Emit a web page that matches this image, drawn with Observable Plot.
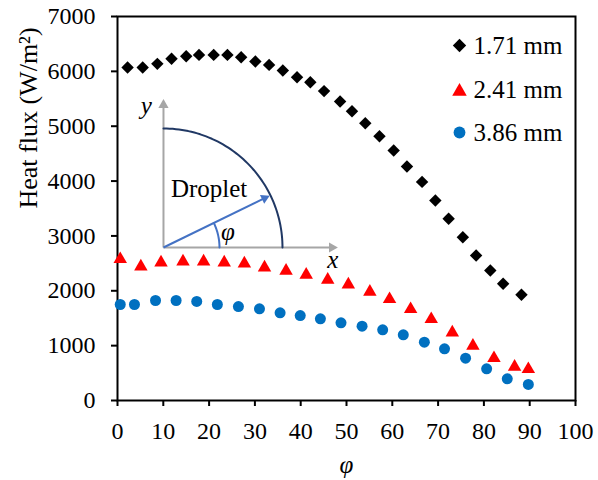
<!DOCTYPE html>
<html>
<head>
<meta charset="utf-8">
<script src="https://cdn.jsdelivr.net/npm/d3@7"></script>
<script src="https://cdn.jsdelivr.net/npm/@observablehq/plot@0.6"></script>
<style>
  body { margin: 0; background: #fff; }
  #chart svg [aria-label="x-axis tick"], #chart svg [aria-label="y-axis tick"] { stroke-width: 2px; }
  #chart svg g[aria-label="x-axis"] .tick line, #chart svg g[aria-label="y-axis"] .tick line { stroke-width: 2px; }
</style>
</head>
<body>
<div id="chart"></div>
<script>
// ---- Data ----
const seriesNames = ["1.71 mm", "2.41 mm", "3.86 mm"];

const phi171 = [2.2, 5.5, 8.7, 11.8, 15.0, 17.8, 21.0, 24.0, 27.0, 30.1, 33.1, 36.1, 39.2, 42.1, 45.1, 48.6, 51.2, 54.1, 57.2, 60.3, 63.2, 66.5, 69.4, 72.3, 75.4, 78.3, 81.4, 84.2, 88.2];
const flux171 = [6070, 6070, 6137, 6229, 6277, 6300, 6300, 6300, 6258, 6180, 6118, 6015, 5893, 5802, 5640, 5450, 5273, 5055, 4818, 4557, 4265, 3985, 3646, 3312, 2977, 2643, 2370, 2127, 1927];

const phi241 = [0.6, 5.1, 9.5, 14.3, 18.8, 23.3, 27.7, 32.1, 36.8, 41.2, 45.9, 50.4, 55.1, 59.4, 64.0, 68.5, 73.1, 77.6, 82.2, 86.7, 89.7];
const flux241 = [2612, 2479, 2552, 2570, 2570, 2552, 2534, 2461, 2401, 2328, 2237, 2150, 2018, 1883, 1701, 1518, 1276, 1034, 808, 651, 607];

const phi386 = [0.6, 3.7, 8.3, 12.8, 17.3, 21.8, 26.4, 31.0, 35.5, 39.9, 44.3, 48.8, 53.4, 57.9, 62.4, 67.0, 71.4, 76.0, 80.6, 85.1, 89.7];
const flux386 = [1750, 1750, 1823, 1823, 1805, 1750, 1713, 1672, 1599, 1549, 1489, 1416, 1354, 1289, 1198, 1063, 942, 771, 578, 396, 292];

const xTicks = [0, 10, 20, 30, 40, 50, 60, 70, 80, 90, 100];
const yTicks = [0, 1000, 2000, 3000, 4000, 5000, 6000, 7000];

const xLabel = "φ";
const yLabel = "Heat flux (W/m²)";
const insetText = "Droplet";

// ---- Build tables ----
const toRows = (xs, ys) => xs.map((x, i) => ({x, y: ys[i]}));
const rows171 = toRows(phi171, flux171);
const rows241 = toRows(phi241, flux241);
const rows386 = toRows(phi386, flux386);

// ---- Layout ----
const W = 598, H = 480;
const mL = 117, mR = 23, mT = 16, mB = 80;
const xDom = [0, 100], yDom = [0, 7000];
const kx = (W - mL - mR) / (xDom[1] - xDom[0]);   // px per degree
const ky = (H - mT - mB) / (yDom[1] - yDom[0]);   // px per W/m2

// inset schematic (data units of the chart)
const O = {x: 10.04, y: 2789};
const R = 119;            // arc radius in px
const r2 = 56;            // angle arc radius in px
const ang = 26;           // arrow angle in degrees
const toRad = d => d * Math.PI / 180;
const arcPts = d3.range(0, 90.01, 1.5).map(t => ({x: O.x + R / kx * Math.cos(toRad(t)), y: O.y + R / ky * Math.sin(toRad(t))}));
const angPts = d3.range(0, ang + 0.01, 1).map(t => ({x: O.x + r2 / kx * Math.cos(toRad(t)), y: O.y + r2 / ky * Math.sin(toRad(t))}));
const gray = "#a6a6a6", navy = "#203864", lblue = "#4472c4";
const yTip = {x: O.x, y: O.y + 148 / ky};
const xTip = {x: O.x + 174 / kx, y: O.y};
const bTip = {x: O.x + (R - 1) * Math.cos(toRad(ang)) / kx, y: O.y + (R - 1) * Math.sin(toRad(ang)) / ky};
const headBack = 5.5;
const yHead = {x: yTip.x, y: yTip.y - headBack / ky};
const xHead = {x: xTip.x - headBack / kx, y: xTip.y};
const bHead = {x: bTip.x - headBack * Math.cos(toRad(ang)) / kx, y: bTip.y - headBack * Math.sin(toRad(ang)) / ky};

const font = "'Liberation Serif', 'Times New Roman', serif";
const fsTick = 24, fsLegend = 25, fsTitle = 26;

const colors = ["#000000", "#ff0000", "#0070c0"];
const symbols = ["diamond2", "triangle", "circle"];
const radii = [5.6, 5.0, 5.5];
const dys = [0, 2, 0];

const legendDx = 342, legendTextDx = 356, legendDy = [29, 73, 116];

const marks = [
  Plot.frame({stroke: "#000", strokeWidth: 2}),
  // inset schematic
  Plot.link([{x1: O.x, y1: O.y, x2: yHead.x, y2: yHead.y}, {x1: O.x, y1: O.y, x2: xHead.x, y2: xHead.y}],
    {x1: "x1", y1: "y1", x2: "x2", y2: "y2", stroke: gray, strokeWidth: 2}),
  Plot.dot([yHead], {x: "x", y: "y", symbol: "triangle", r: 3.8, fill: gray, rotate: 0}),
  Plot.dot([xHead], {x: "x", y: "y", symbol: "triangle", r: 3.8, fill: gray, rotate: 90}),
  Plot.line(arcPts, {x: "x", y: "y", stroke: navy, strokeWidth: 2}),
  Plot.link([{x1: O.x, y1: O.y, x2: bHead.x, y2: bHead.y}], {x1: "x1", y1: "y1", x2: "x2", y2: "y2", stroke: lblue, strokeWidth: 2}),
  Plot.dot([bHead], {x: "x", y: "y", symbol: "triangle", r: 3.6, fill: lblue, rotate: 90 - ang}),
  Plot.line(angPts, {x: "x", y: "y", stroke: lblue, strokeWidth: 2}),
  Plot.text([insetText], {x: () => 20.0, y: () => 3859, text: d => d, fontSize: 25, fontFamily: font, fill: "#000"}),
  Plot.text(["φ"], {x: () => 24.1, y: () => 3068, text: d => d, fontSize: 25, fontStyle: "italic", fontFamily: font, fill: "#000"}),
  Plot.text(["y"], {x: () => 6.3, y: () => 5377, text: d => d, fontSize: 25, fontStyle: "italic", fontFamily: font, fill: "#000"}),
  Plot.text(["x"], {x: () => 47.0, y: () => 2570, text: d => d, fontSize: 25, fontStyle: "italic", fontFamily: font, fill: "#000"}),
  // data
  Plot.dot(rows171, {x: "x", y: "y", symbol: symbols[0], r: radii[0], fill: colors[0], dy: dys[0]}),
  Plot.dot(rows241, {x: "x", y: "y", symbol: symbols[1], r: radii[1], fill: colors[1], dy: dys[1]}),
  Plot.dot(rows386, {x: "x", y: "y", symbol: symbols[2], r: radii[2], fill: colors[2], dy: dys[2]}),
  // axis titles
  Plot.text([xLabel], {frameAnchor: "bottom", dy: 64, lineAnchor: "middle", text: d => d, fontSize: 25, fontStyle: "italic", fontFamily: font, fill: "#000"}),
  Plot.text([yLabel], {frameAnchor: "left", dx: -89, rotate: -90, lineAnchor: "middle", text: d => d, fontSize: fsTitle, fontFamily: font, fill: "#000"})
];

// legend
seriesNames.forEach((name, i) => {
  marks.push(Plot.dot([name], {frameAnchor: "top-left", dx: legendDx, dy: legendDy[i] + dys[i], symbol: symbols[i], r: radii[i] + 0.4, fill: colors[i]}));
  marks.push(Plot.text([name], {frameAnchor: "top-left", dx: legendTextDx, dy: legendDy[i], text: d => d, textAnchor: "start", lineAnchor: "middle", fontSize: fsLegend, fontFamily: font, fill: "#000"}));
});

const chart = Plot.plot({
  width: W, height: H,
  marginLeft: mL, marginRight: mR, marginTop: mT, marginBottom: mB,
  style: {fontFamily: font, fontSize: fsTick + "px", color: "#000", background: "#fff", overflow: "visible"},
  x: {domain: xDom, ticks: xTicks, tickFormat: d => String(d), tickSize: 6, tickPadding: 15, label: null},
  y: {domain: yDom, ticks: yTicks, tickFormat: d => String(d), tickSize: 6, tickPadding: 16, label: null},
  marks
});
document.getElementById("chart").appendChild(chart);
</script>
</body>
</html>
